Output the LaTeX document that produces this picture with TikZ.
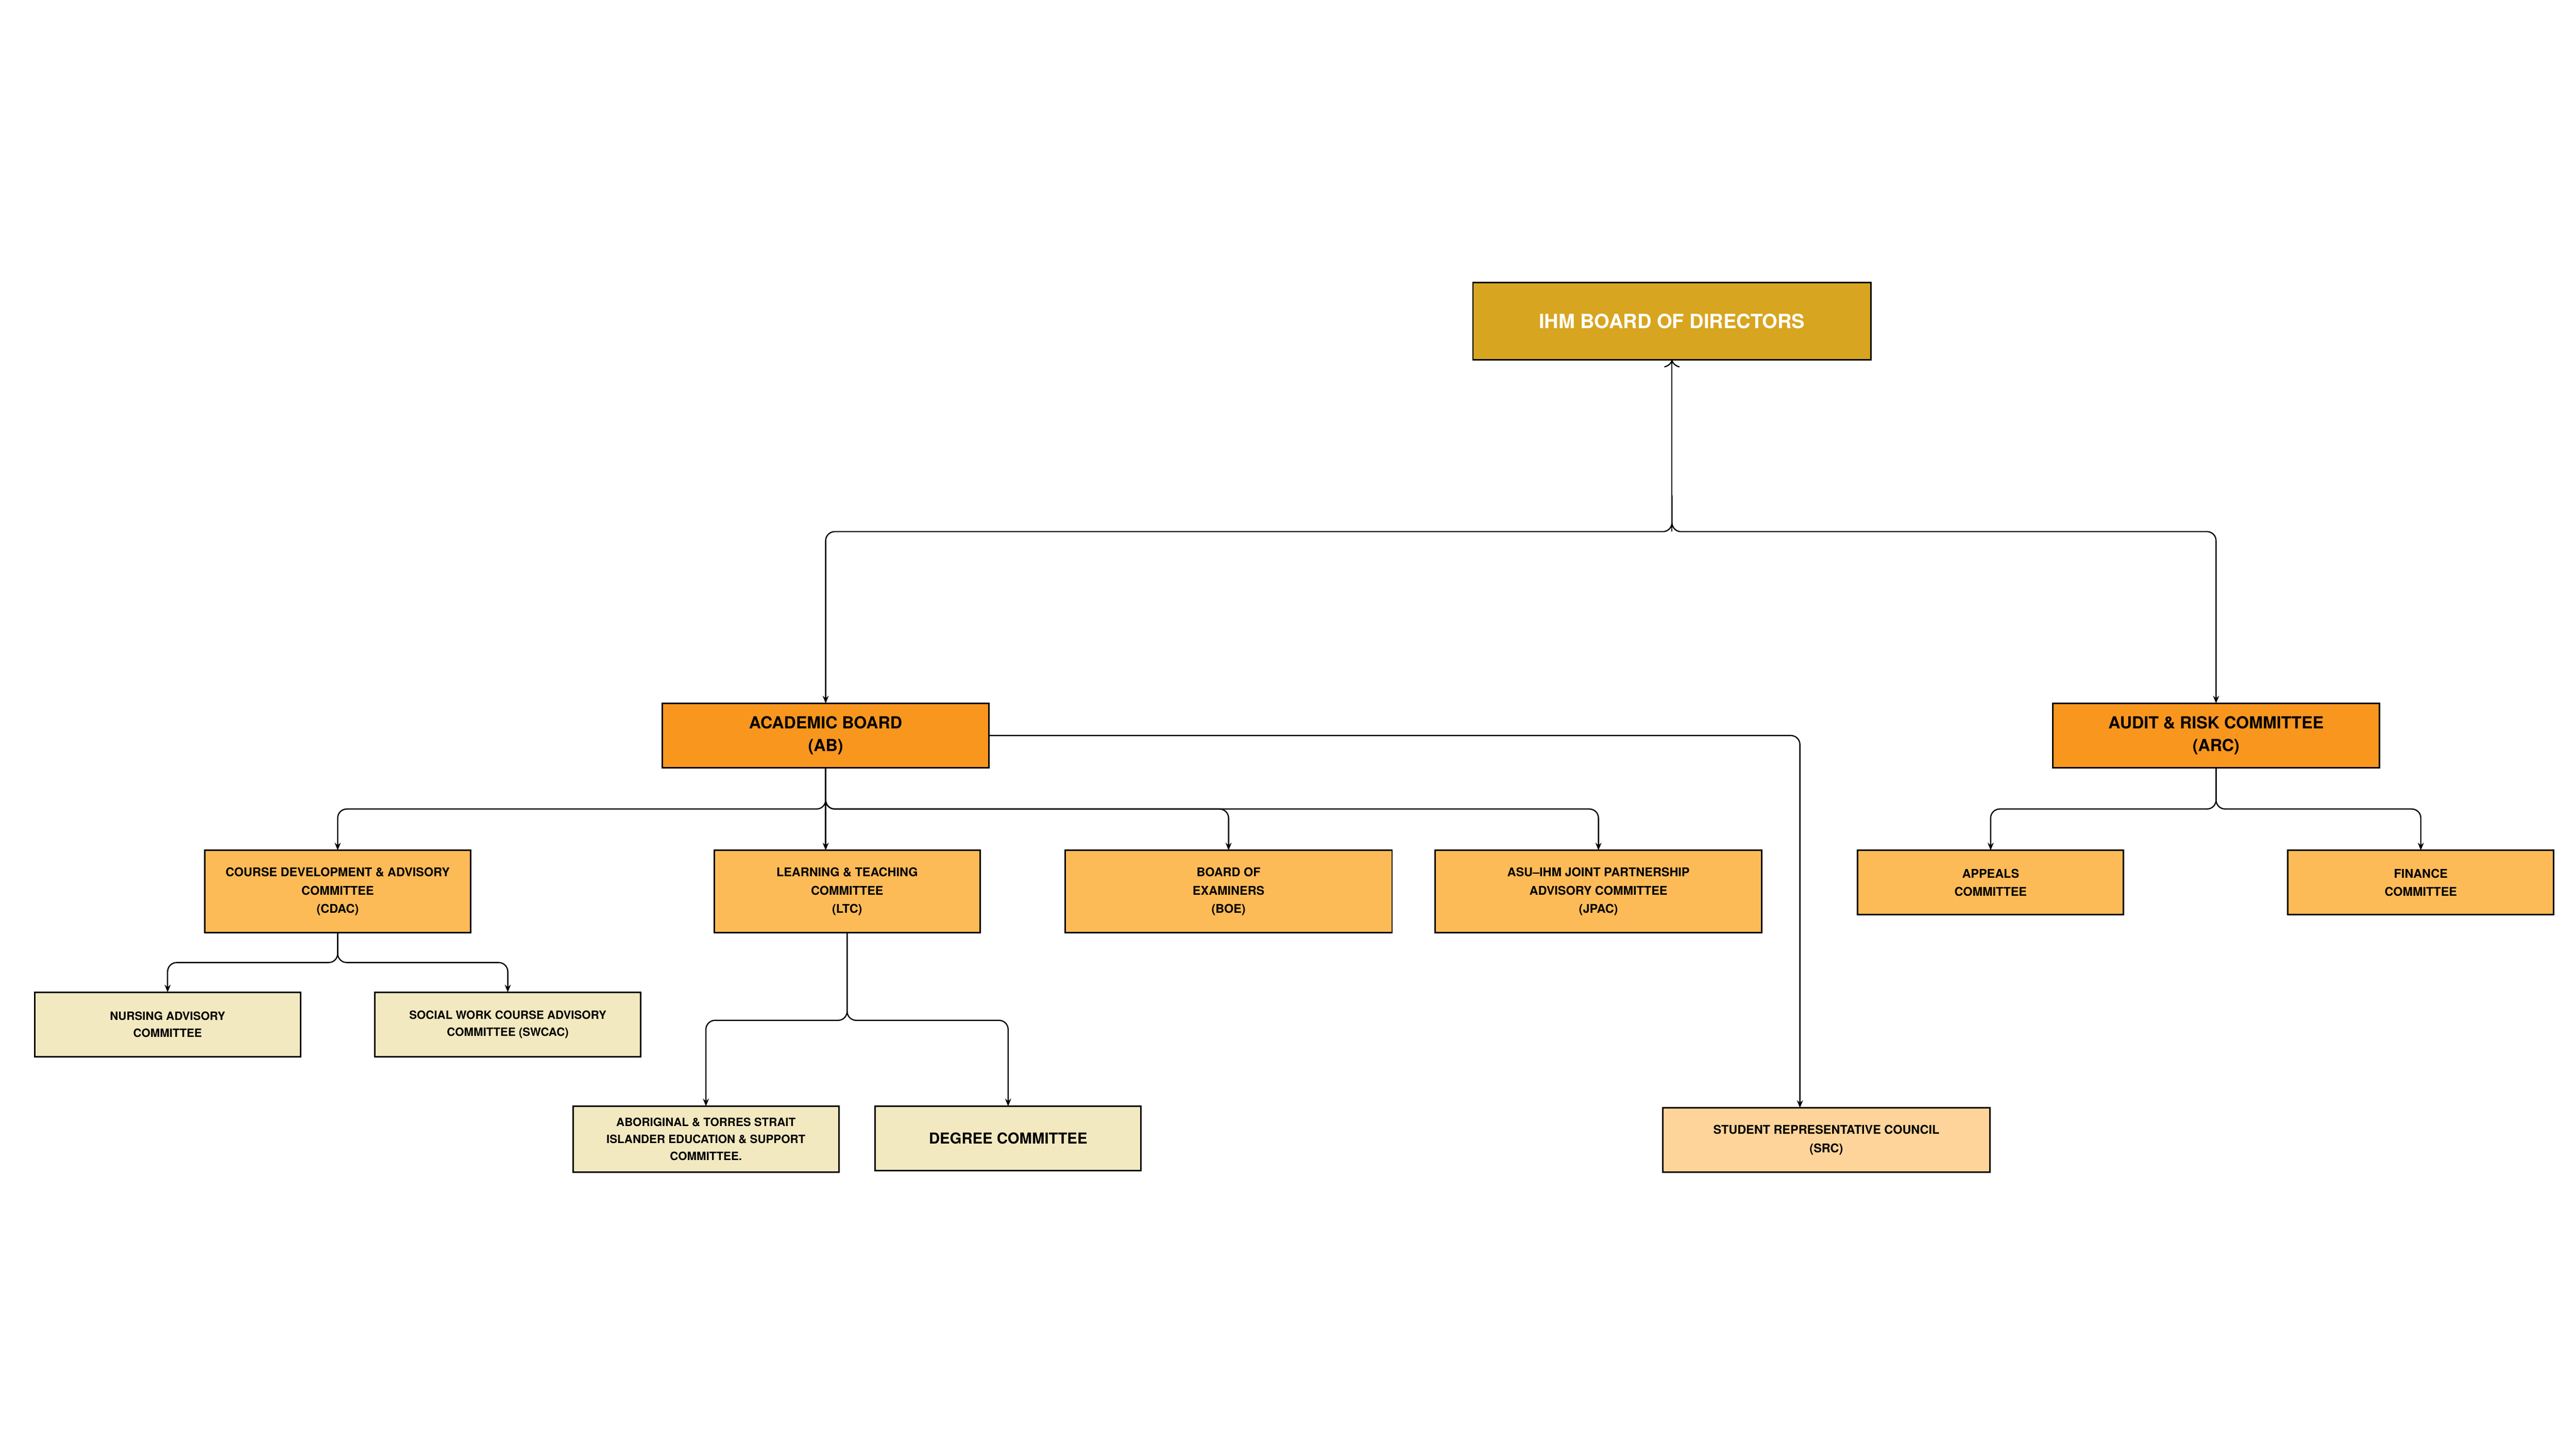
\documentclass[tikz,border=0pt]{standalone}
\usepackage{fontspec}
\setmainfont{TeX Gyre Heros}
\usetikzlibrary{arrows.meta}

\definecolor{gold}{HTML}{D8A520}
\definecolor{darkorange}{HTML}{F8961E}
\definecolor{midorange}{HTML}{FDBB58}
\definecolor{paleyellow}{HTML}{F3E9C0}
\definecolor{peach}{HTML}{FFD49A}

\begin{document}
\begin{tikzpicture}[
  x=0.01923cm, y=-0.01923cm,
  every node/.style={
    draw, rectangle, line width=0.5pt,
    outer sep=0pt, inner sep=1pt, align=center,
    font=\bfseries,
  },
  topbox/.style={fill=gold, text=white, minimum width=241*0.01923cm,
    minimum height=47*0.01923cm, font=\bfseries\fontsize{6.5}{8}\selectfont},
  mainbox/.style={fill=darkorange, minimum width=198*0.01923cm,
    minimum height=39*0.01923cm, font=\bfseries\fontsize{5.5}{7.5}\selectfont},
  subbox/.style={fill=midorange, minimum height=50*0.01923cm,
    font=\bfseries\fontsize{4}{6}\selectfont},
  leafbox/.style={fill=paleyellow, minimum width=161*0.01923cm,
    minimum height=39*0.01923cm, font=\bfseries\fontsize{3.8}{5.6}\selectfont},
  link/.style={draw, line width=0.4pt, rounded corners=3pt, -{Stealth[length=2.5pt,width=2pt]}},
]

  \fill[white] (0,0) rectangle (1560,877);

  \node[topbox] (bod) at (1012.5,194.5) {IHM BOARD OF DIRECTORS};

  \node[mainbox] (ab)  at (500,445.5)  {ACADEMIC BOARD\\(AB)};
  \node[mainbox] (arc) at (1342,445.5) {AUDIT \& RISK COMMITTEE\\(ARC)};

  \node[subbox, minimum width=161*0.01923cm] (cdac) at (204.5,540) {COURSE DEVELOPMENT \& ADVISORY\\COMMITTEE\\(CDAC)};
  \node[subbox, minimum width=161*0.01923cm] (ltc)  at (513,540)   {LEARNING \& TEACHING\\COMMITTEE\\(LTC)};
  \node[subbox, minimum width=198*0.01923cm] (boe)  at (744,540)   {BOARD OF\\EXAMINERS\\(BOE)};
  \node[subbox, minimum width=198*0.01923cm] (jpac) at (968,540)   {ASU--IHM JOINT PARTNERSHIP\\ADVISORY COMMITTEE\\(JPAC)};

  \node[subbox, minimum width=161*0.01923cm, minimum height=39*0.01923cm] (appeals) at (1205.5,534.5) {APPEALS\\COMMITTEE};
  \node[subbox, minimum width=161*0.01923cm, minimum height=39*0.01923cm] (finance) at (1466,534.5)   {FINANCE\\COMMITTEE};

  \node[leafbox] (nac)    at (101.5,620.5) {NURSING ADVISORY\\COMMITTEE};
  \node[leafbox] (swcac)  at (307.5,620.5) {SOCIAL WORK COURSE ADVISORY\\COMMITTEE (SWCAC)};
  \node[leafbox, minimum height=40*0.01923cm] (atsi) at (427.5,690) {ABORIGINAL \& TORRES STRAIT\\ISLANDER EDUCATION \& SUPPORT\\COMMITTEE.};
  \node[leafbox, font=\bfseries\fontsize{5}{6}\selectfont] (degree) at (610.5,689.5) {DEGREE COMMITTEE};

  \node[fill=peach, minimum width=198*0.01923cm, minimum height=39*0.01923cm,
    font=\bfseries\fontsize{4}{6}\selectfont] (src) at (1106,690.5) {STUDENT REPRESENTATIVE COUNCIL\\(SRC)};

  % board of directors
  \draw[link, <-] (bod.south) -- (1012.5,322);
  \draw[link] (1012.5,300) |- (500,322) -- (ab.north);
  \draw[link] (1012.5,300) |- (1342,322) -- (arc.north);

  % academic board
  \draw[link] (ab.south) |- (204.5,490) -- (cdac.north);
  \draw[link] (ab.south) -- (500,515);
  \draw[link] (ab.south) |- (744,490) -- (boe.north);
  \draw[link] (ab.south) |- (968,490) -- (jpac.north);
  \draw[link] (ab.east) -| (1090,671);

  % audit and risk
  \draw[link] (arc.south) |- (1205.5,490) -- (appeals.north);
  \draw[link] (arc.south) |- (1466,490) -- (finance.north);

  % course development
  \draw[link] (cdac.south) |- (101.5,583) -- (nac.north);
  \draw[link] (cdac.south) |- (307.5,583) -- (swcac.north);

  % learning and teaching
  \draw[link] (ltc.south) |- (427.5,618) -- (atsi.north);
  \draw[link] (ltc.south) |- (610.5,618) -- (degree.north);

\end{tikzpicture}
\end{document}
